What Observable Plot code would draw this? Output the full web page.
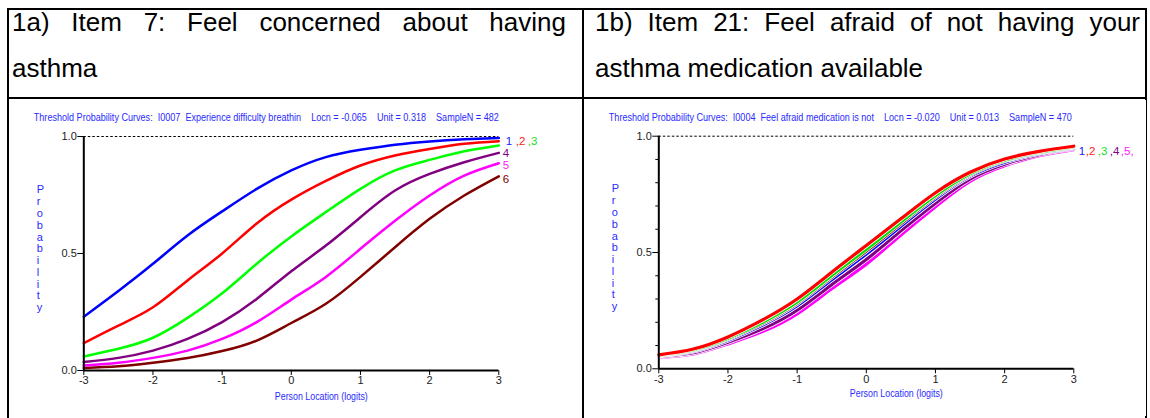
<!DOCTYPE html>
<html><head><meta charset="utf-8">
<script src="https://cdn.jsdelivr.net/npm/d3@7"></script>
<script src="https://cdn.jsdelivr.net/npm/@observablehq/plot@0.6"></script>
<style>
html,body{margin:0;padding:0;background:#fff;width:1150px;height:418px;overflow:hidden;}
body{position:relative;font-family:"Liberation Sans",Arial,sans-serif;}
.line{position:absolute;background:#000;}
.hdr{position:absolute;font-size:26px;line-height:46px;text-align:justify;color:#000;}
.panel{position:absolute;top:100px;}
.panel svg{display:block;}
</style></head><body>
<div class="line" style="left:7px;top:8px;width:1140px;height:2px"></div>
<div class="line" style="left:7px;top:97px;width:1140px;height:2px"></div>
<div class="line" style="left:7px;top:8px;width:2px;height:410px"></div>
<div class="line" style="left:582px;top:8px;width:2px;height:410px"></div>
<div class="line" style="left:1145px;top:8px;width:2px;height:410px"></div>
<div class="hdr" id="hA" style="left:12px;top:-1px;width:554px;"></div>
<div class="hdr" id="hB" style="left:595px;top:-1px;width:545px;"></div>
<div class="panel" id="pA" style="left:9px"></div>
<div class="panel" id="pB" style="left:586px"></div>
<script>
// ---------- text ----------
const headerA = "1a) Item 7: Feel concerned about having asthma";
const headerB = "1b) Item 21: Feel afraid of not having your asthma medication available";
const titleA = "Threshold Probability Curves:  I0007  Experience difficulty breathin    Locn = -0.065    Unit = 0.318    SampleN = 482";
const titleB = "Threshold Probability Curves:  I0004  Feel afraid medication is not    Locn = -0.020    Unit = 0.013    SampleN = 470";
const xLabel = "Person Location (logits)";
const yLabel = "Probability";

// ---------- shared axes ----------
const xTicks = [-3, -2, -1, 0, 1, 2, 3];
const yTicks = [0, 0.5, 1];
const yMinorTicks = [0.1, 0.2, 0.3, 0.4, 0.6, 0.7, 0.8, 0.9];
const xs = [-3, -2.5, -2, -1.5, -1, -0.5, 0, 0.5, 1, 1.5, 2, 2.5, 3];

// ---------- panel 1a: six thresholds ----------
const aNames  = ["1", "2", "3", "4", "5", "6"];
const aColors = ["#0000ff", "#ff0000", "#00ff00", "#800080", "#ff00ff", "#800000"];
const a1 = [0.230,0.340,0.456,0.577,0.680,0.776,0.855,0.912,0.943,0.965,0.979,0.988,0.994];
const a2 = [0.117,0.192,0.270,0.385,0.500,0.628,0.730,0.810,0.876,0.919,0.947,0.969,0.980];
const a3 = [0.060,0.093,0.140,0.225,0.330,0.456,0.573,0.677,0.776,0.855,0.900,0.937,0.962];
const a4 = [0.036,0.054,0.085,0.135,0.207,0.306,0.424,0.534,0.655,0.769,0.840,0.890,0.930];
const a5 = [0.021,0.033,0.054,0.085,0.135,0.207,0.303,0.400,0.520,0.640,0.748,0.833,0.886];
const a6 = [0.011,0.018,0.033,0.053,0.083,0.128,0.203,0.285,0.400,0.527,0.648,0.748,0.830];
const aLegendTop = ["1", ",2", ",3"];
const aLegendTopColors = ["#2020ff", "#ff2020", "#20e020"];

// ---------- panel 1b: six thresholds, nearly identical ----------
const bNames  = ["1", "2", "3", "4", "5", "6"];
const bColors = ["#0000ff", "#ff0000", "#00e000", "#800080", "#ff00ff", "#800000"];
const b1 = [0.056,0.076,0.123,0.188,0.271,0.383,0.494,0.613,0.730,0.828,0.888,0.926,0.950];
const b2 = [0.060,0.085,0.137,0.210,0.300,0.415,0.530,0.645,0.757,0.845,0.902,0.935,0.957];
const b3 = [0.058,0.081,0.131,0.200,0.287,0.401,0.514,0.631,0.745,0.838,0.897,0.931,0.954];
const b4 = [0.053,0.069,0.114,0.172,0.252,0.362,0.470,0.593,0.712,0.816,0.880,0.921,0.946];
const b5 = [0.050,0.064,0.107,0.160,0.236,0.344,0.450,0.575,0.697,0.806,0.873,0.916,0.942];
const b6 = [0.057,0.079,0.128,0.195,0.281,0.394,0.506,0.624,0.739,0.834,0.894,0.929,0.953];
const bLegend = ["1", ",2", ",3", ",4", ",5,"];
const bLegendColors = ["#2020ff", "#ff2020", "#20e020", "#800080", "#ff20ff"];

document.getElementById("hA").textContent = headerA;
document.getElementById("hB").textContent = headerB;

const chartFont = "'Liberation Sans', Arial, sans-serif";
const blueText = "#2a2aff";

function rows(names, colors, vals) {
  return names.map((n, i) => xs.map((x, j) => ({series: n, x, p: vals[i][j], color: colors[i]})));
}

function panel(cfg) {
  const series = rows(cfg.names, cfg.colors, cfg.vals);
  const lineMarks = [];
  cfg.drawOrder.forEach(i => {
    if (cfg.halo) lineMarks.push(Plot.line(series[i], {x: "x", y: "p", stroke: "white", strokeWidth: cfg.lw + 1.5, curve: "natural"}));
    lineMarks.push(Plot.line(series[i], {x: "x", y: "p", stroke: "color", strokeWidth: cfg.lw, curve: "natural"}));
  });
  const legendMarks = cfg.legends.map(L =>
    Plot.text([L.text], {x: 3, y: L.y, text: d => d, fill: L.color, dx: L.dx, dy: L.dy, textAnchor: "start", lineAnchor: "middle", fontSize: 11.5})
  );
  const svg = Plot.plot({
    width: cfg.width, height: 316,
    marginLeft: cfg.ml, marginRight: cfg.mr, marginTop: cfg.mt, marginBottom: cfg.mb,
    x: {domain: [-3, 3]},
    y: {domain: [0, 1]},
    color: {type: "identity"},
    style: {fontFamily: chartFont, fontSize: "11px", color: "#222", background: "white", overflow: "visible"},
    marks: [
      Plot.ruleY([1], {x1: -3, x2: 3, stroke: "#000", strokeWidth: 1, strokeDasharray: "2.5 2"}),
      ...lineMarks,
      Plot.axisX(xTicks, {label: null, tickSize: 5, tickPadding: 1, tickFormat: d => String(d), stroke: "#000", fill: "#222", fontSize: 11}),
      Plot.axisY(yTicks, {label: null, tickSize: 6, tickPadding: 1, tickFormat: d3.format(".1f"), stroke: "#000", fill: "#222", fontSize: 11}),
      ...(cfg.minor ? [Plot.axisY(yMinorTicks, {label: null, tickSize: 3, tickFormat: () => "", stroke: "#000"})] : []),
      Plot.ruleY([0], {x1: -3, x2: 3, stroke: "#000", strokeWidth: 2}),
      Plot.ruleX([-3], {y1: 0, y2: 1, stroke: "#000", strokeWidth: 2}),
      ...legendMarks,
      Plot.text([cfg.title], {frameAnchor: "top-left", text: d => d, dx: cfg.tDx, dy: -18.5, textAnchor: "start", lineAnchor: "middle", fill: blueText, fontSize: 10}),
      Plot.text([xLabel], {frameAnchor: "bottom", text: d => d, dx: 30, dy: cfg.xlDy, lineAnchor: "middle", fill: blueText, fontSize: 10.5}),
      Plot.text([yLabel.split("").join("\n")], {frameAnchor: "left", text: d => d, dx: cfg.ylDx, dy: -5, lineAnchor: "middle", lineHeight: 1.07, fill: blueText, fontSize: 11})
    ]
  });
  svg.querySelectorAll("text").forEach(t => {
    const s = t.textContent;
    if (s === cfg.title) { t.style.whiteSpace = "pre"; t.setAttribute("textLength", cfg.titleLen); t.setAttribute("lengthAdjust", "spacingAndGlyphs"); }
    if (s === xLabel) { t.setAttribute("textLength", 93); t.setAttribute("lengthAdjust", "spacingAndGlyphs"); }
  });
  return svg;
}

const aVals = [a1, a2, a3, a4, a5, a6];
const aLeg = [
  ...aLegendTop.map((t, i) => ({text: t, color: aLegendTopColors[i], y: a1[12], dx: [7, 17, 29][i], dy: 3})),
  {text: "4", color: "#800080", y: a4[12], dx: 4, dy: 0},
  {text: "5", color: "#ff20ff", y: a5[12], dx: 4, dy: 2},
  {text: "6", color: "#800000", y: a6[12], dx: 4, dy: 3}
];
document.getElementById("pA").appendChild(panel({
  names: aNames, colors: aColors, vals: aVals, drawOrder: [5, 4, 3, 2, 1, 0], halo: false, lw: 2.5,
  legends: aLeg, width: 569, ml: 74.3, mr: 79.7, mt: 36, mb: 46, minor: false,
  title: titleA, titleLen: 465, tDx: -50, xlDy: 26, ylDx: -47
}));

const bVals = [b1, b2, b3, b4, b5, b6];
const bLeg = bLegend.map((t, i) => ({text: t, color: bLegendColors[i], y: b1[12], dx: [5, 12, 24, 36, 47][i], dy: 3}));
document.getElementById("pB").appendChild(panel({
  names: bNames, colors: bColors, vals: bVals, drawOrder: [4, 3, 0, 5, 2, 1], halo: true, lw: 3.2,
  legends: bLeg, width: 560, ml: 72.3, mr: 72.7, mt: 35.7, mb: 47.7, minor: true,
  title: titleB, titleLen: 463, tDx: -50, xlDy: 25, ylDx: -47
}));
</script>
</body></html>
